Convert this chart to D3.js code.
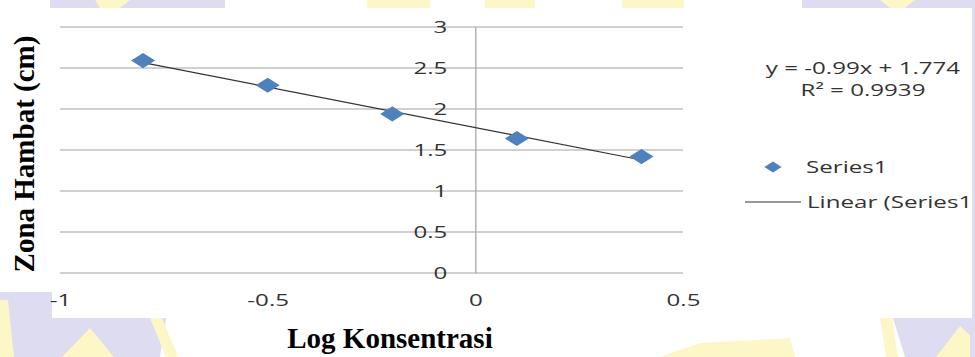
<!DOCTYPE html>
<html>
<head>
<meta charset="utf-8">
<script src="https://cdn.jsdelivr.net/npm/d3@7"></script>
<style>
  html, body { margin: 0; padding: 0; background: #fff; }
  svg { display: block; }
</style>
</head>
<body>
<svg width="975" height="357"></svg>
<script>
// data
var logKonsentrasi = [-0.8, -0.5, -0.2, 0.1, 0.4]
var zonaHambat = [2.59, 2.29, 1.94, 1.64, 1.42]
var xTicks = [-1, -0.5, 0, 0.5]
var yTicks = [0, 0.5, 1, 1.5, 2, 2.5, 3]
var trendSlope = -0.99
var trendIntercept = 1.774
var equationText = ['y = -0.99x + 1.774', 'R² = 0.9939']
var legendNames = ['Series1', 'Linear (Series1)']
var xTitle = 'Log Konsentrasi'
var yTitle = 'Zona Hambat (cm)'

var svg = d3.select('svg')
var blue = '#4f81bd'
var lav = '#dddcf0'
var yel = '#fdf6c6'
var stretch = 1.42   // the picture is stretched sideways

// watermark bits that show round the white chart
var wm = svg.append('g')
wm.append('rect').attr('x', 0).attr('y', 0).attr('width', 975).attr('height', 357).attr('fill', '#fff')
var shapes = [
    { c: lav, p: [[0, 280], [172, 280], [160, 357], [0, 357]] },
    { c: yel, p: [[0, 300], [8, 300], [14, 357], [0, 357]] },
    { c: yel, p: [[62, 357], [90, 328], [114, 357]] },
    { c: yel, p: [[150, 318], [162, 318], [178, 357], [166, 357]] },
    { c: lav, p: [[893, 318], [975, 300], [975, 357], [905, 357]] },
    { c: yel, p: [[880, 318], [892, 318], [898, 357], [886, 357]] },
    { c: yel, p: [[936, 357], [960, 326], [975, 340], [975, 357]] },
    { c: yel, p: [[660, 357], [700, 343], [790, 338], [795, 357]] },
    { c: lav, p: [[50, 0], [225, 0], [225, 8], [50, 8]] },
    { c: yel, p: [[95, 0], [130, 0], [120, 8], [100, 8]] },
    { c: yel, p: [[367, 0], [430, 0], [430, 8], [367, 8]] },
    { c: yel, p: [[485, 0], [535, 0], [535, 8], [485, 8]] },
    { c: yel, p: [[622, 0], [684, 0], [684, 8], [622, 8]] },
    { c: lav, p: [[802, 0], [975, 0], [975, 8], [802, 8]] },
    { c: yel, p: [[880, 0], [915, 0], [905, 8], [890, 8]] },
    { c: lav, p: [[970, 0], [975, 0], [975, 357], [970, 357]] }
]
wm.selectAll('polygon').data(shapes).enter().append('polygon')
    .attr('points', d => d.p.join(' '))
    .attr('fill', d => d.c)

// white chart area
svg.append('rect').attr('x', 52).attr('y', 8).attr('width', 920).attr('height', 310).attr('fill', '#fff')
svg.append('rect').attr('x', 0).attr('y', 8).attr('width', 60).attr('height', 284).attr('fill', '#fff')

svg.append('clipPath').attr('id', 'panel')
    .append('rect').attr('x', 0).attr('y', 8).attr('width', 972).attr('height', 310)

var x = d3.scaleLinear().domain([-1, 0.5]).range([60, 683])
var y = d3.scaleLinear().domain([0, 3]).range([273, 27])

// gridlines
svg.append('g').selectAll('line').data(yTicks).enter().append('line')
    .attr('x1', x(-1)).attr('x2', x(0.5))
    .attr('y1', d => y(d)).attr('y2', d => y(d))
    .attr('stroke', '#c0c0c0').attr('stroke-width', 1.4)

// y axis sits at x = 0
var yAxis = svg.append('g')
    .attr('transform', 'translate(' + x(0) + ',0)')
    .call(d3.axisLeft(y).tickValues(yTicks).tickSize(0).tickFormat(d => String(d)))
yAxis.select('.domain').attr('stroke', '#a8a8a8').attr('stroke-width', 1.3)
yAxis.selectAll('text')
    .attr('x', 0).attr('dy', '0.35em')
    .attr('transform', 'translate(-28,0) scale(' + stretch + ',1)')
    .attr('font-family', 'Open Sans').attr('font-size', 17).attr('fill', '#333')
    .attr('text-anchor', 'end')

var xAxis = svg.append('g')
    .attr('transform', 'translate(0,' + y(0) + ')')
    .call(d3.axisBottom(x).tickValues(xTicks).tickSize(0).tickFormat(d => String(d)))
xAxis.select('.domain').remove()
xAxis.selectAll('text')
    .attr('y', 0).attr('dy', '0.35em')
    .attr('transform', 'translate(0,27) scale(' + stretch + ',1)')
    .attr('font-family', 'Open Sans').attr('font-size', 17).attr('fill', '#333')

// trendline
var ends = [logKonsentrasi[0], logKonsentrasi[logKonsentrasi.length - 1]]
svg.append('path')
    .datum(ends)
    .attr('d', d3.line().x(d => x(d)).y(d => y(trendSlope * d + trendIntercept)))
    .attr('fill', 'none').attr('stroke', '#333').attr('stroke-width', 1.2)

// diamond markers
var square = d3.symbol().type(d3.symbolSquare).size(289)
svg.append('g').selectAll('path').data(logKonsentrasi).enter().append('path')
    .attr('d', square)
    .attr('transform', (d, i) => 'translate(' + x(d) + ',' + y(zonaHambat[i]) + ') scale(1,0.63) rotate(45)')
    .attr('fill', blue)

// equation + legend
var leg = svg.append('g').attr('clip-path', 'url(#panel)')
    .attr('font-family', 'Open Sans').attr('font-size', 17).attr('fill', '#333')
leg.selectAll('g.eq').data(equationText).enter().append('g')
    .attr('class', 'eq')
    .attr('transform', (d, i) => 'translate(863,' + (74 + i * 22) + ')')
    .append('text')
    .attr('text-anchor', 'middle')
    .attr('transform', 'scale(' + stretch + ',1)')
    .text(d => d)

leg.append('path')
    .attr('d', d3.symbol().type(d3.symbolSquare).size(150))
    .attr('transform', 'translate(773,167) scale(1,0.63) rotate(45)')
    .attr('fill', blue)
leg.append('line')
    .attr('x1', 745).attr('x2', 801).attr('y1', 202).attr('y2', 202)
    .attr('stroke', '#333').attr('stroke-width', 1.2)
leg.selectAll('g.item').data(legendNames).enter().append('g')
    .attr('class', 'item')
    .attr('transform', (d, i) => 'translate(' + (806 + i) + ',' + (173 + i * 35) + ')')
    .append('text')
    .attr('transform', 'scale(' + stretch + ',1)')
    .text(d => d)

// axis titles
svg.append('text')
    .attr('x', 390).attr('y', 348)
    .attr('text-anchor', 'middle')
    .attr('font-family', 'Liberation Serif').attr('font-weight', 'bold').attr('font-size', 29)
    .attr('fill', '#000')
    .text(xTitle)
svg.append('text')
    .attr('transform', 'translate(34,154) rotate(-90)')
    .attr('text-anchor', 'middle')
    .attr('font-family', 'Liberation Serif').attr('font-weight', 'bold').attr('font-size', 29)
    .attr('fill', '#000')
    .text(yTitle)
</script>
</body>
</html>
